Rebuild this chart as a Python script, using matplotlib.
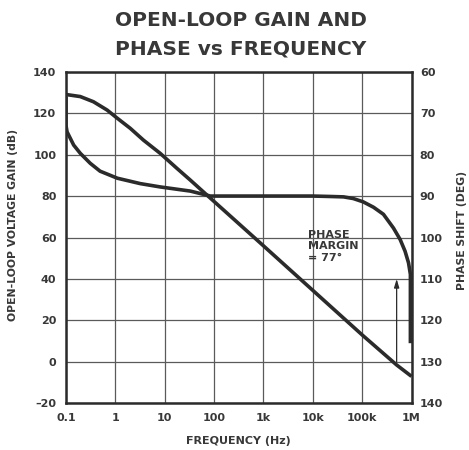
import matplotlib
matplotlib.use('Agg')
import matplotlib.pyplot as plt

plt.rcParams['font.family'] = ['DejaVu Sans']

# gain curve (dB)
gain_freq = [0.1, 0.195, 0.36, 0.68, 1.1, 2, 3.7, 8.1, 17.8, 33, 84,
             1e3, 1e4, 1e5, 5e5, 1e6]
gain_db = [129, 128, 125.5, 121.5, 117.5, 112.7, 107, 100.6, 93.3, 87.7, 79,
           56, 34.5, 13, -1.5, -7]

# phase curve (degrees), right axis
phase_freq = [0.1, 0.1, 0.105, 0.143, 0.195, 0.31, 0.49, 1.1, 3.2, 8.1, 33, 84,
              1e4, 2.2e4, 4.2e4, 6.6e4, 1.05e5, 1.7e5, 2.7e5, 4.3e5, 5.9e5,
              7.4e5, 8.7e5, 9.5e5, 9.5e5]
phase_deg = [66, 73, 74.5, 77.7, 79.7, 82.1, 84, 85.7, 87, 87.8, 88.8, 90,
             90, 90.1, 90.2, 90.6, 91.4, 92.7, 94.4, 97.7, 100.5,
             103.3, 106.1, 108.9, 125.5]

# phase margin marker
pm_freq = 5e5
pm_gain = 0
pm_top = 40
pm_text = 'PHASE\nMARGIN\n= 77°'

freq_ticks = [0.1, 1, 10, 100, 1e3, 1e4, 1e5, 1e6]
freq_labels = ['0.1', '1', '10', '100', '1k', '10k', '100k', '1M']
gain_ticks = [-20, 0, 20, 40, 60, 80, 100, 120, 140]
gain_labels = ['\u201320', '0', '20', '40', '60', '80', '100', '120', '140']
phase_ticks = [60, 70, 80, 90, 100, 110, 120, 130, 140]

ink = '#2b2b2b'
txt = '#383838'

fig = plt.figure(figsize=(4.69, 4.5), dpi=100)
ax = fig.add_axes([66 / 469, (450 - 403.3) / 450, (411.5 - 66) / 469, (403.3 - 71.7) / 450])
ax.set_xscale('log')
ax.set_xlim(0.1, 1e6)
ax.set_ylim(-20, 140)

ax.set_xticks(freq_ticks)
ax.set_xticklabels(freq_labels)
ax.xaxis.set_minor_locator(matplotlib.ticker.NullLocator())
ax.set_yticks(gain_ticks)
ax.set_yticklabels(gain_labels)
ax.grid(True, color='#5a5a5a', linewidth=0.9)
ax.tick_params(length=0, labelsize=8, pad=7)
for lab in ax.get_xticklabels() + ax.get_yticklabels():
    lab.set_fontweight('bold')
    lab.set_color(txt)
for sp in ax.spines.values():
    sp.set_linewidth(1.8)
    sp.set_color(ink)

ax.plot(gain_freq, gain_db, color=ink, linewidth=2.6, solid_capstyle='butt',
        solid_joinstyle='round')

ax2 = ax.twinx()
ax2.set_ylim(140, 60)
ax2.set_yticks(phase_ticks)
ax2.tick_params(length=0, labelsize=8, pad=6)
for lab in ax2.get_yticklabels():
    lab.set_fontweight('bold')
    lab.set_color(txt)
ax2.plot(phase_freq, phase_deg, color=ink, linewidth=2.6, solid_capstyle='butt',
         solid_joinstyle='round')
for sp in ax2.spines.values():
    sp.set_visible(False)

# phase margin arrow
ax.annotate('', xy=(pm_freq, pm_top), xytext=(pm_freq, pm_gain),
            arrowprops=dict(arrowstyle='-|>,head_width=0.15,head_length=0.5',
                            color=ink, linewidth=0.9, shrinkA=0, shrinkB=0))
ax.text(8e3, 63.5, pm_text, ha='left', va='top', fontsize=8, fontweight='bold',
        color=txt, linespacing=1.15)

ax.set_xlabel('FREQUENCY (Hz)', fontsize=8, fontweight='bold', color=txt, labelpad=9)
fig.text(13 / 469, 1 - 225 / 450, 'OPEN-LOOP VOLTAGE GAIN (dB)', rotation=90,
         ha='center', va='center', fontsize=7.8, fontweight='bold', color=txt)
fig.text(462 / 469, 1 - 230 / 450, 'PHASE SHIFT (DEG)', rotation=90,
         ha='center', va='center', fontsize=7.8, fontweight='bold', color=txt)

fig.text(241 / 469, 1 - 21 / 450, 'OPEN-LOOP GAIN AND', ha='center', va='center',
         fontsize=14.5, fontweight='bold', color=txt)
fig.text(241 / 469, 1 - 49 / 450, 'PHASE vs FREQUENCY', ha='center', va='center',
         fontsize=14.5, fontweight='bold', color=txt)

fig.savefig('out.png', dpi=100, facecolor='white')
